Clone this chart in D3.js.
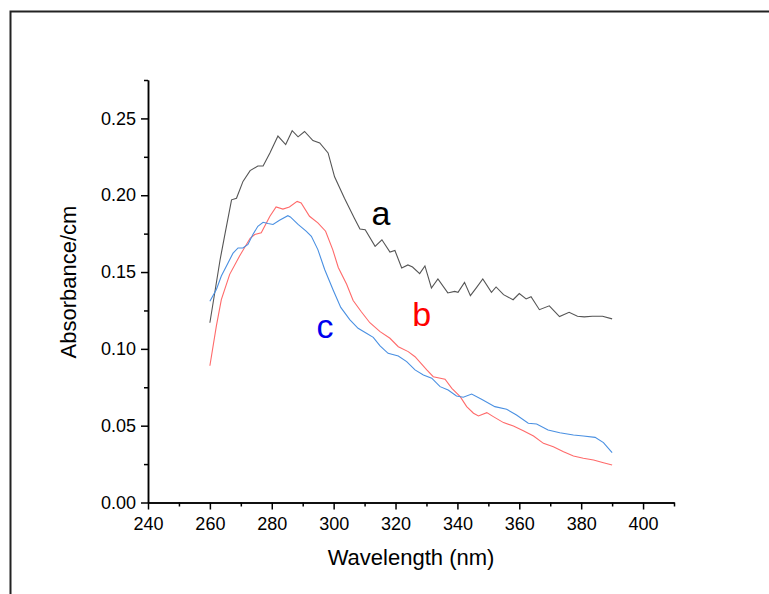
<!DOCTYPE html>
<html>
<head>
<meta charset="utf-8">
<script src="https://cdn.jsdelivr.net/npm/d3@7"></script>
<style>
  body { margin: 0; background: #fff; }
  svg { display: block; font-family: Arial, "Liberation Sans", sans-serif; }
  .axis path, .axis line { stroke: #000; stroke-width: 1.5; }
  .axis text { font-size: 18px; fill: #000; }
</style>
</head>
<body>
<div id="chart"></div>
<script>
// spectra (wavelength in nm, absorbance/cm)
var waveA = [260,263.3,264.9,267,268.6,270.7,273,275.5,277.2,279.4,282,284.5,286.6,288.5,290.6,293.3,295.5,298.2,300.3,303.5,306.7,308.5,310.2,313.4,315.6,318.2,319.8,322,324,325.5,327.8,329.5,331.6,333.7,336.9,339.1,340.2,342.3,344.2,346.1,348.2,351,352.5,354.9,358,360,362.2,363.8,366.5,369.7,373,376.1,378.8,381,383.6,386.9,390];
var absA  = [0.117,0.158,0.175,0.197,0.198,0.209,0.216,0.219,0.219,0.2275,0.2385,0.233,0.242,0.238,0.2415,0.2356,0.234,0.2275,0.212,0.198,0.185,0.178,0.1775,0.1667,0.171,0.163,0.164,0.1527,0.1546,0.1533,0.149,0.154,0.1396,0.1455,0.1364,0.1374,0.1368,0.1433,0.1346,0.1397,0.1455,0.1368,0.1403,0.1353,0.132,0.136,0.1325,0.134,0.1255,0.128,0.121,0.1238,0.1212,0.1208,0.1212,0.1212,0.1195];

var waveB = [260,262.1,263.7,266.4,269.6,273,274.5,276.6,279.4,281.4,283.6,285.7,288.2,289.5,292.2,294.9,297.4,299.7,301.5,304.2,306.3,309,311.7,315,318.2,320.9,324.1,326.3,330.1,332.2,336,338.2,340.9,343,345.2,346.8,349.5,351.6,354.9,358.1,361.3,364.6,367.8,371,374.3,377.5,380.7,384,387.2,390];
var absB  = [0.089,0.115,0.132,0.1485,0.1605,0.172,0.1744,0.1755,0.1863,0.1924,0.191,0.1924,0.196,0.195,0.1863,0.182,0.1766,0.1646,0.153,0.142,0.1315,0.124,0.117,0.1112,0.1069,0.1014,0.0982,0.0949,0.0863,0.0819,0.0802,0.0743,0.0689,0.0624,0.0581,0.0563,0.0585,0.0559,0.052,0.0498,0.0467,0.0433,0.0385,0.0363,0.0331,0.0303,0.0288,0.0277,0.0259,0.0244];

var waveC = [260,262.1,263.7,265.9,267.5,269.1,270.7,272.3,273.9,275.5,277.2,278.8,280.4,282.5,285.2,286,288.5,291.1,292.8,294.9,297.1,299.8,302.3,305.2,307.9,310.6,312.8,315,317.6,320.9,323.6,326.3,329,331.7,334.4,337,339.7,341.9,344.6,347.8,352.1,355.9,359.1,362.9,365.6,369.3,373.1,377.5,380.7,384.5,387.2,390];
var absC  = [0.131,0.1387,0.1474,0.156,0.1624,0.1657,0.1657,0.168,0.1744,0.1798,0.1824,0.1816,0.181,0.1837,0.1867,0.1859,0.181,0.1766,0.1733,0.1646,0.1517,0.1385,0.127,0.119,0.1134,0.1102,0.1075,0.1019,0.0971,0.0954,0.0917,0.0863,0.083,0.0809,0.0754,0.0732,0.0693,0.0685,0.0706,0.0672,0.0624,0.0607,0.057,0.0516,0.0511,0.0472,0.0454,0.0439,0.0433,0.0424,0.039,0.0324];

var xMajor = [240,260,280,300,320,340,360,380,400];
var xMinor = [250,270,290,310,330,350,370,390,410];
var yMajor = [0,0.05,0.10,0.15,0.20,0.25];
var yMinor = [0.025,0.075,0.125,0.175,0.225,0.275];

var seriesNames  = ["a","b","c"];
var seriesColors = ["#555555","#ff6a6a","#4a90e2"];
var labelColors  = ["#000000","#ff0000","#0000ee"];
// where the letters sit, in data units
var labelWave = [315.3,328.5,297.2];
var labelAbs  = [0.1807,0.1149,0.1071];

var W = 769, H = 594;
var svg = d3.select("#chart").append("svg")
    .attr("width", W)
    .attr("height", H);

// outer frame, runs off the right and bottom edges
svg.append("rect")
    .attr("x", 10.5).attr("y", 11.5)
    .attr("width", 900).attr("height", 800)
    .attr("fill", "none")
    .attr("stroke", "#222")
    .attr("stroke-width", 2);

var x = d3.scaleLinear().domain([240, 410]).range([148, 674]);
var y = d3.scaleLinear().domain([0, 0.275]).range([502.5, 80]);

// minor ticks first, then the labelled ones
svg.append("g")
    .attr("class", "axis")
    .attr("transform", "translate(0," + y(0) + ")")
    .call(d3.axisBottom(x).tickValues(xMinor).tickSize(4).tickSizeOuter(0).tickFormat(""));
svg.append("g")
    .attr("class", "axis")
    .attr("transform", "translate(0," + y(0) + ")")
    .call(d3.axisBottom(x).tickValues(xMajor).tickSize(7).tickSizeOuter(0).tickPadding(8).tickFormat(d3.format("d")));

svg.append("g")
    .attr("class", "axis")
    .attr("transform", "translate(" + x(240) + ",0)")
    .call(d3.axisLeft(y).tickValues(yMinor).tickSize(4).tickSizeOuter(0).tickFormat(""));
svg.append("g")
    .attr("class", "axis")
    .attr("transform", "translate(" + x(240) + ",0)")
    .call(d3.axisLeft(y).tickValues(yMajor).tickSize(7).tickSizeOuter(0).tickPadding(5).tickFormat(d3.format(".2f")));

svg.append("text")
    .attr("x", 411).attr("y", 565)
    .attr("text-anchor", "middle")
    .style("font-size", "22px")
    .text("Wavelength (nm)");

svg.append("text")
    .attr("transform", "translate(76,282) rotate(-90)")
    .attr("text-anchor", "middle")
    .style("font-size", "22px")
    .text("Absorbance/cm");

var waves = [waveA, waveB, waveC];
var absorb = [absA, absB, absC];

var line = d3.line()
    .x(function(d) { return x(d[0]); })
    .y(function(d) { return y(d[1]); });

seriesNames.forEach(function(name, i) {
  var pts = waves[i].map(function(w, j) { return [w, absorb[i][j]]; });
  svg.append("path")
      .datum(pts)
      .attr("fill", "none")
      .attr("stroke", seriesColors[i])
      .attr("stroke-width", 1.1)
      .attr("d", line);

  svg.append("text")
      .attr("x", x(labelWave[i]))
      .attr("y", y(labelAbs[i]))
      .attr("text-anchor", "middle")
      .style("font-size", "34px")
      .attr("fill", labelColors[i])
      .text(name);
});
</script>
</body>
</html>
